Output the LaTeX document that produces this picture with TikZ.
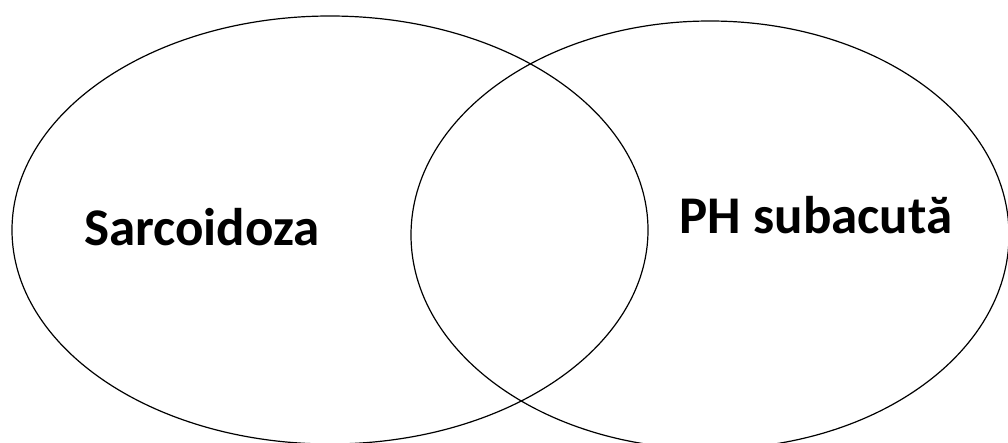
\documentclass[tikz,border=0pt]{standalone}
\usepackage{fontspec}
\setmainfont{Carlito}
\usetikzlibrary{shapes.geometric}

\begin{document}
\begin{tikzpicture}[x=1pt,y=-1pt]
  \tikzset{
    setbox/.style={draw,ellipse,line width=1.2pt,inner sep=0pt},
    setlabel/.style={anchor=base,font=\fontsize{53}{63}\selectfont\bfseries}
  }
  \useasboundingbox (0,0) rectangle (1008,442);
  % the two sets
  \node[setbox,minimum width=636pt,minimum height=428pt] (sarc) at (330,230) {};
  \node[setbox,minimum width=598pt,minimum height=428pt] (ph) at (710,235) {};
  % labels
  \node[setlabel] (sarclabel) at (202,245) {Sarcoidoza};
  \node[setlabel] (phlabel) at (816,233) {PH subacută};
\end{tikzpicture}
\end{document}
